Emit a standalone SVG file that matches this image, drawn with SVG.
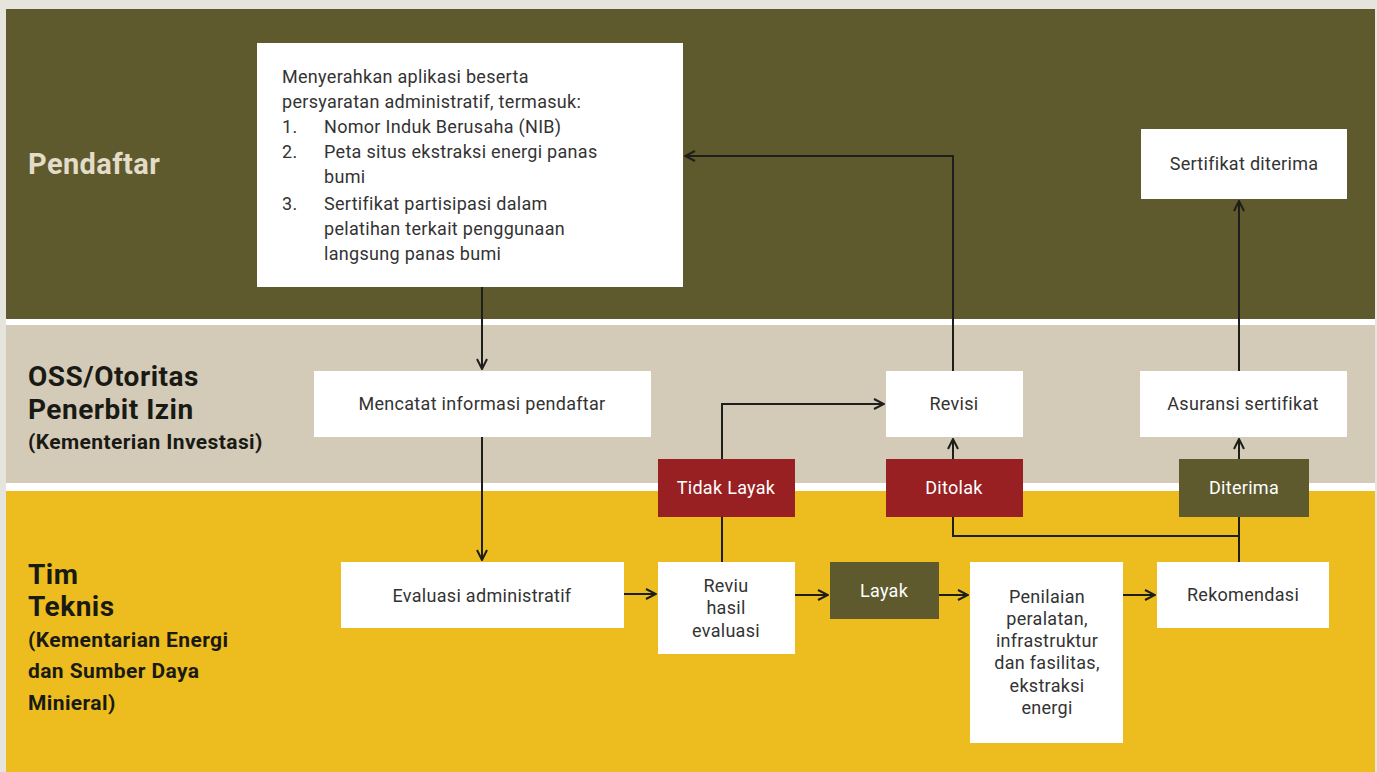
<svg xmlns="http://www.w3.org/2000/svg" width="1377" height="772" viewBox="0 0 1377 772">
<defs>
<style>
.box{fill:#ffffff}
.red{fill:#992022}
.olv{fill:#5e5a2e}
.t{font-family:Roboto,"Liberation Sans",sans-serif;fill:#333333;font-size:18px;letter-spacing:0.3px}
.tc{text-anchor:middle}
.w{fill:#ffffff}
.lane{font-family:Roboto,"Liberation Sans",sans-serif;font-weight:bold;fill:#1a1a14}
.big{font-size:28px;letter-spacing:0.5px}
.sm{font-size:21px;letter-spacing:0.4px}
.con{fill:none;stroke:#1e1e1a;stroke-width:2}
</style>
<marker id="ah" viewBox="0 0 12 12" refX="11" refY="6" markerWidth="12" markerHeight="12" markerUnits="userSpaceOnUse" orient="auto">
<path d="M1,1 L11,6 L1,11" fill="none" stroke="#1e1e1a" stroke-width="2"/>
</marker>
</defs>
<rect x="0" y="0" width="1377" height="772" fill="#e5e5de"/>
<g id="lanes">
<rect x="6" y="9" width="1369" height="310" fill="#5f592e"/>
<rect x="6" y="319" width="1369" height="6" fill="#ffffff"/>
<rect x="6" y="325" width="1369" height="158" fill="#d4cab8"/>
<rect x="6" y="483" width="1369" height="8" fill="#ffffff"/>
<rect x="6" y="491" width="1369" height="281" fill="#edbc1e"/>
<text x="28" y="174" font-family="Roboto,'Liberation Sans',sans-serif" font-weight="bold" font-size="29" letter-spacing="0.4" fill="#e2dcc8">Pendaftar</text>
<text class="lane big" x="28" y="386">OSS/Otoritas</text>
<text class="lane big" x="28" y="419">Penerbit Izin</text>
<text class="lane sm" x="28" y="449">(Kementerian Investasi)</text>
<text class="lane big" x="28" y="584">Tim</text>
<text class="lane big" x="28" y="616">Teknis</text>
<text class="lane sm" x="28" y="647">(Kementarian Energi</text>
<text class="lane sm" x="28" y="678">dan Sumber Daya</text>
<text class="lane sm" x="28" y="710">Minieral)</text>
</g>
<g id="connectors">
<path class="con" d="M482,287 V369" marker-end="url(#ah)"/>
<path class="con" d="M482,437 V560" marker-end="url(#ah)"/>
<path class="con" d="M624,594 H656" marker-end="url(#ah)"/>
<path class="con" d="M722,562 V404 H884" marker-end="url(#ah)"/>
<path class="con" d="M953,459 V439" marker-end="url(#ah)"/>
<path class="con" d="M953,371 V156 H685" marker-end="url(#ah)"/>
<path class="con" d="M795,595 H828" marker-end="url(#ah)"/>
<path class="con" d="M939,595 H968" marker-end="url(#ah)"/>
<path class="con" d="M1123,595 H1155" marker-end="url(#ah)"/>
<path class="con" d="M1239,562 V517"/>
<path class="con" d="M953,517 V536 H1239"/>
<path class="con" d="M1239,459 V439" marker-end="url(#ah)"/>
<path class="con" d="M1239,371 V201" marker-end="url(#ah)"/>
</g>
<g id="n-submit">
<rect class="box" x="257" y="43" width="426" height="244"/>
<text class="t" font-size="19.5" letter-spacing="0.4"><tspan x="282" y="83">Menyerahkan aplikasi beserta</tspan><tspan x="282" y="108">persyaratan administratif, termasuk:</tspan><tspan x="282" y="133">1.</tspan><tspan x="324" y="133">Nomor Induk  Berusaha (NIB)</tspan><tspan x="282" y="158">2.</tspan><tspan x="324" y="158">Peta situs ekstraksi energi panas</tspan><tspan x="324" y="183">bumi</tspan><tspan x="282" y="210">3.</tspan><tspan x="324" y="210">Sertifikat partisipasi dalam</tspan><tspan x="324" y="235">pelatihan terkait penggunaan</tspan><tspan x="324" y="260">langsung panas bumi</tspan></text>
</g>
<g id="n-sertifikat">
<rect class="box" x="1141" y="129" width="206" height="70"/>
<text class="t tc" x="1244" y="170">Sertifikat diterima</text>
</g>
<g id="n-mencatat">
<rect class="box" x="314" y="371" width="337" height="66"/>
<text class="t tc" x="482" y="410">Mencatat informasi pendaftar</text>
</g>
<g id="n-revisi">
<rect class="box" x="886" y="371" width="137" height="66"/>
<text class="t tc" x="954" y="410">Revisi</text>
</g>
<g id="n-asuransi">
<rect class="box" x="1140" y="371" width="207" height="66"/>
<text class="t tc" x="1243" y="410">Asuransi sertifikat</text>
</g>
<g id="n-tidaklayak">
<rect class="red" x="658" y="459" width="137" height="58"/>
<text class="t tc w" x="726" y="494">Tidak Layak</text>
</g>
<g id="n-ditolak">
<rect class="red" x="886" y="459" width="137" height="58"/>
<text class="t tc w" x="954" y="494">Ditolak</text>
</g>
<g id="n-diterima">
<rect class="olv" x="1179" y="459" width="130" height="58"/>
<text class="t tc w" x="1244" y="494">Diterima</text>
</g>
<g id="n-evaluasi">
<rect class="box" x="341" y="562" width="283" height="66"/>
<text class="t tc" x="482" y="602" font-size="20.5">Evaluasi administratif</text>
</g>
<g id="n-reviu">
<rect class="box" x="658" y="562" width="137" height="92"/>
<text class="t tc"><tspan x="726" y="592">Reviu</tspan><tspan x="726" y="614">hasil</tspan><tspan x="726" y="637">evaluasi</tspan></text>
</g>
<g id="n-layak">
<rect class="olv" x="830" y="562" width="109" height="57"/>
<text class="t tc w" x="884" y="597">Layak</text>
</g>
<g id="n-penilaian">
<rect class="box" x="970" y="562" width="153" height="181"/>
<text class="t tc"><tspan x="1047" y="603">Penilaian</tspan><tspan x="1047" y="625">peralatan,</tspan><tspan x="1047" y="647">infrastruktur</tspan><tspan x="1047" y="669">dan fasilitas,</tspan><tspan x="1047" y="692">ekstraksi</tspan><tspan x="1047" y="714">energi</tspan></text>
</g>
<g id="n-rekomendasi">
<rect class="box" x="1157" y="562" width="172" height="66"/>
<text class="t tc" x="1243" y="601">Rekomendasi</text>
</g>
</svg>
